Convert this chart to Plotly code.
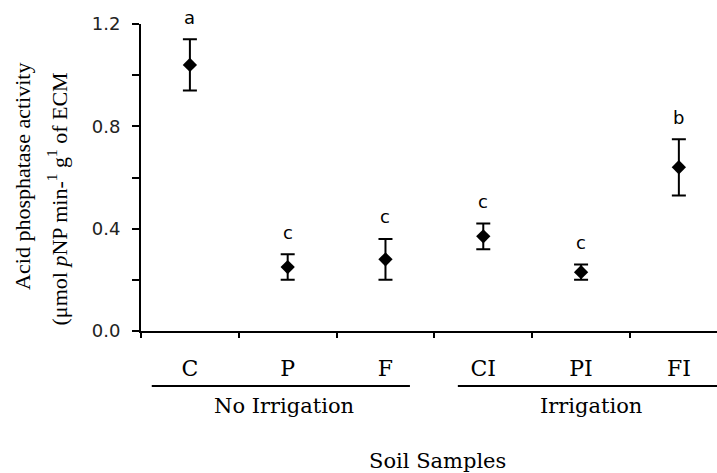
import plotly.graph_objects as go

categories = ["C", "P", "F", "CI", "PI", "FI"]
means = [1.04, 0.25, 0.28, 0.37, 0.23, 0.64]
errors = [0.10, 0.05, 0.08, 0.05, 0.03, 0.11]
letters = ["a", "c", "c", "c", "c", "b"]
y_major = [0.0, 0.4, 0.8, 1.2]
y_major_text = ["0.0", "0.4", "0.8", "1.2"]
y_minor = [0.2, 0.6, 1.0]
groups = ["No Irrigation", "Irrigation"]

xs = list(range(len(categories)))

fig = go.Figure()
fig.add_trace(go.Scatter(
    x=xs, y=means, mode="markers",
    marker=dict(symbol="diamond", size=11, color="black"),
    error_y=dict(type="data", array=errors, visible=True,
                 color="black", thickness=2, width=7),
    showlegend=False, hoverinfo="skip", cliponaxis=False,
))

serif = "DejaVu Serif"
sans = "DejaVu Sans"

annotations = []
for i, (m, e, L) in enumerate(zip(means, errors, letters)):
    annotations.append(dict(x=i, y=m + e, xref="x", yref="y", text=L,
                            showarrow=False, yshift=22, yanchor="middle",
                            font=dict(family=sans, size=18, color="black")))

# group labels
annotations.append(dict(x=0.96, y=-0.244, xref="x", yref="paper", text=groups[0],
                        showarrow=False, yanchor="middle",
                        font=dict(family=serif, size=21, color="black")))
annotations.append(dict(x=4.1, y=-0.244, xref="x", yref="paper", text=groups[1],
                        showarrow=False, yanchor="middle",
                        font=dict(family=serif, size=21, color="black")))
annotations.append(dict(x=2.53, y=-0.423, xref="x", yref="paper", text="Soil Samples",
                        showarrow=False, yanchor="middle",
                        font=dict(family=serif, size=21, color="black")))
# y title (two lines)
annotations.append(dict(x=-0.205, y=0.505, xref="paper", yref="paper",
                        text="Acid phosphatase activity", textangle=-90,
                        showarrow=False, xanchor="center", yanchor="middle",
                        font=dict(family="Liberation Serif", size=22, color="black")))
annotations.append(dict(x=-0.145, y=0.43, xref="paper", yref="paper",
                        text="(\u03bcmol <i>p</i>NP min-<sup>1</sup> g<sup>1</sup> of ECM",
                        textangle=-90,
                        showarrow=False, xanchor="center", yanchor="middle",
                        font=dict(family="Liberation Serif", size=22, color="black")))

shapes = [
    dict(type="line", xref="x", yref="paper", x0=-0.39, x1=2.25, y0=-0.179, y1=-0.179,
         line=dict(color="black", width=2)),
    dict(type="line", xref="x", yref="paper", x0=2.74, x1=5.6, y0=-0.179, y1=-0.179,
         line=dict(color="black", width=2)),
]

fig.update_layout(
    width=717, height=473,
    margin=dict(l=141, r=0, t=24, b=142),
    paper_bgcolor="white", plot_bgcolor="white",
    annotations=annotations, shapes=shapes,
    xaxis=dict(range=[-0.5, 5.39], showline=True, linecolor="black", linewidth=2,
               tickmode="array", tickvals=xs, ticktext=categories, ticks="",
               ticklabelstandoff=17, showgrid=False, zeroline=False,
               tickfont=dict(family=serif, size=22, color="black"),
               minor=dict(tickmode="array", tickvals=[i - 0.5 for i in range(7)],
                          ticks="outside", ticklen=5, tickwidth=2, tickcolor="black",
                          showgrid=False)),
    yaxis=dict(range=[0, 1.2], showline=True, linecolor="black", linewidth=2,
               tickmode="array", tickvals=y_major, ticktext=y_major_text,
               ticks="outside", ticklen=7, tickwidth=2, tickcolor="black",
               ticklabelstandoff=8, showgrid=False, zeroline=False,
               tickfont=dict(family=sans, size=18, color="#222"),
               minor=dict(tickmode="array", tickvals=y_minor,
                          ticks="outside", ticklen=7, tickwidth=2, tickcolor="black",
                          showgrid=False)),
)

fig.write_html("out.html")
